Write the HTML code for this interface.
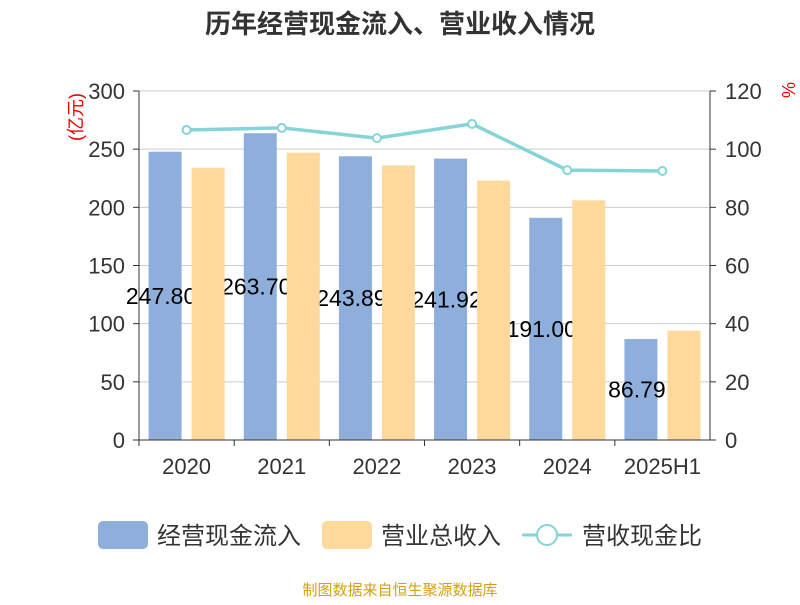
<!DOCTYPE html>
<html><head><meta charset="utf-8"><style>body{margin:0;background:#fff}svg text{font-family:"Liberation Sans","Noto Sans CJK SC",sans-serif}</style></head>
<body>
<svg id="c" width="800" height="600"></svg>
<script>
const categories=["2020","2021","2022","2023","2024","2025H1"];
const cashIn=[247.80,263.70,243.89,241.92,191.00,86.79];
const revenue=[234,247,236,223,206,94];
const ratio=[106.6,107.3,103.8,108.7,92.8,92.5];
const leftTicks=[0,50,100,150,200,250,300];
const rightTicks=[0,20,40,60,80,100,120];
const svg=document.getElementById('c');const NS='http://www.w3.org/2000/svg';
function el(t,a,txt){const e=document.createElementNS(NS,t);for(const k in a)e.setAttribute(k,a[k]);if(txt!==undefined)e.textContent=txt;svg.appendChild(e);return e;}
const x0=139,x1=710,yT=91,yB=440,cw=(x1-x0)/categories.length;
const yL=v=>yB-(v/300)*(yB-yT), yR=v=>yB-(v/120)*(yB-yT);
let e=el('text',{x:400,y:33,'text-anchor':'middle','font-size':26,'font-weight':'bold',fill:'#333'},'历年经营现金流入、营业收入情况');

leftTicks.forEach((v,i)=>{
 e=el('line',{x1:x0,x2:x1,y1:yL(v),y2:yL(v),stroke:'#ccc'});
 e=el('line',{x1:x0-6,x2:x0,y1:yL(v),y2:yL(v),stroke:'#333'});
 e=el('text',{x:x0-14,y:yL(v)+8,'text-anchor':'end','font-size':22,fill:'#333'},v);
});
rightTicks.forEach(v=>{
 e=el('line',{x1:x1,x2:x1+6,y1:yR(v),y2:yR(v),stroke:'#333'});
 e=el('text',{x:x1+15,y:yR(v)+8,'font-size':22,fill:'#333'},v);
});
e=el('line',{x1:x0,x2:x0,y1:yT,y2:yB,stroke:'#333'});
e=el('line',{x1:x1,x2:x1,y1:yT,y2:yB,stroke:'#333'});
e=el('text',{x:82,y:117,'font-size':18,fill:'#e00',transform:'rotate(-90 82 117)','text-anchor':'middle'},'(亿元)');
e=el('text',{x:782,y:90,'font-size':18,fill:'#e00',transform:'rotate(90 782 90)','text-anchor':'middle'},'%');
const bw=33;
categories.forEach((c,i)=>{const cx=x0+cw*i+cw/2;
 e=el('rect',{x:cx-bw-5,y:yL(cashIn[i]),width:bw,height:yB-yL(cashIn[i]),fill:'#8eaedb'});
});
categories.forEach((c,i)=>{const cx=x0+cw*i+cw/2-bw/2-9;
 e=el('text',{x:cx,y:(yL(cashIn[i])+yB)/2+8,'text-anchor':'middle','font-size':23,fill:'#000'},cashIn[i].toFixed(2));
});
categories.forEach((c,i)=>{const cx=x0+cw*i+cw/2;
 e=el('rect',{x:cx+5,y:yL(revenue[i]),width:bw,height:yB-yL(revenue[i]),fill:'#ffd89b'});
});
e=el('line',{x1:x0,x2:x1,y1:yB,y2:yB,stroke:'#333'});
categories.forEach((c,i)=>{const cx=x0+cw*i+cw/2;
 e=el('line',{x1:x0+cw*i,x2:x0+cw*i,y1:yB,y2:yB+6,stroke:'#333'});
 e=el('text',{x:cx,y:474,'text-anchor':'middle','font-size':22,fill:'#333'},c);
});
e=el('polyline',{points:ratio.map((v,i)=>(x0+cw*i+cw/2)+','+yR(v)).join(' '),fill:'none',stroke:'#84d4d8','stroke-width':3.5});
ratio.forEach((v,i)=>{e=el('circle',{cx:x0+cw*i+cw/2,cy:yR(v),r:4,fill:'#fff',stroke:'#84d4d8','stroke-width':2});});
e=el('rect',{x:98,y:521,width:50,height:28,rx:5,fill:'#8eaedb'});
e=el('text',{x:157,y:544,'font-size':24,fill:'#333'},'经营现金流入');
e=el('rect',{x:322,y:521,width:50,height:28,rx:5,fill:'#ffd89b'});
e=el('text',{x:381,y:544,'font-size':24,fill:'#333'},'营业总收入');
e=el('line',{x1:522,x2:572,y1:535,y2:535,stroke:'#84d4d8','stroke-width':3});
e=el('circle',{cx:547,cy:535,r:10,fill:'#fff',stroke:'#84d4d8','stroke-width':2});
e=el('text',{x:582,y:544,'font-size':24,fill:'#333'},'营收现金比');
e=el('text',{x:400,y:595,'text-anchor':'middle','font-size':15,fill:'#d4a017'},'制图数据来自恒生聚源数据库');
</script>
</body></html>
